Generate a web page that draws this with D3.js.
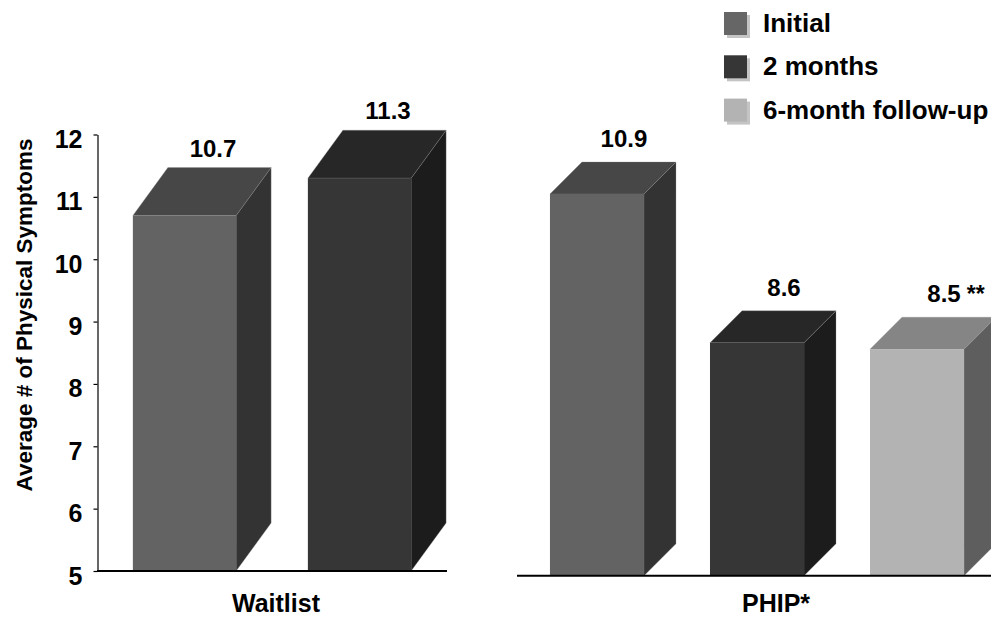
<!DOCTYPE html>
<html>
<head>
<meta charset="utf-8">
<script src="https://cdn.jsdelivr.net/npm/d3@7"></script>
<style>
  html, body { margin: 0; padding: 0; background: #fff; }
  svg { display: block; font-family: "Liberation Sans", Arial, sans-serif; font-weight: bold; }
</style>
</head>
<body>
<svg id="chart" width="991" height="619"></svg>
<script>
// Average number of physical symptoms by group and time point
const groups = ["Waitlist", "PHIP*"];
const seriesNames = ["Initial", "2 months", "6-month follow-up"];
const waitlistSeries = ["Initial", "2 months"];
const waitlistValues = [10.7, 11.3];
const phipSeries = ["Initial", "2 months", "6-month follow-up"];
const phipValues = [10.9, 8.6, 8.5];
const phipNotes = ["", "", "**"];
const yTicks = [5, 6, 7, 8, 9, 10, 11, 12];
const yTitle = "Average # of Physical Symptoms";

// face shades for each series: front, top, side
const shades = {
  "Initial":            { front: "#636363", top: "#474747", side: "#333333" },
  "2 months":           { front: "#363636", top: "#272727", side: "#1c1c1c" },
  "6-month follow-up":  { front: "#b3b3b3", top: "#858585", side: "#5e5e5e" }
};

const svg = d3.select("#chart");

// left panel (with value axis)
const yLeft = d3.scaleLinear().domain([5, 12]).range([571, 134.5]);
// right panel shares the value range but sits slightly lower and taller
const yRight = d3.scaleLinear().domain([5, 12]).range([575.7, 122.8]);

const xLeft = d3.scaleBand().domain(waitlistSeries).range([97, 447])
  .paddingInner(0.41).paddingOuter(0.205);
const xRight = d3.scaleBand().domain(phipSeries).range([517, 997])
  .paddingInner(0.4125).paddingOuter(0.206);

function drawPanel(g, names, values, notes, x, y, depth, labelGap, lineEnd) {
  const base = y(5);
  const bars = g.selectAll("g.bar")
    .data(names.map((n, i) => ({ name: n, value: values[i], note: notes ? notes[i] : "" })))
    .join("g").attr("class", "bar");

  bars.each(function (d) {
    const sel = d3.select(this);
    const x0 = x(d.name), x1 = x0 + x.bandwidth();
    const yt = y(d.value);
    const { dx, dy } = depth;
    const c = shades[d.name];
    // side face
    sel.append("path")
      .attr("d", `M${x1},${yt}L${x1 + dx},${yt - dy}L${x1 + dx},${base - dy}L${x1},${base}Z`)
      .attr("fill", c.side).attr("stroke", "#8c8c8c").attr("stroke-width", 0.5).attr("stroke-opacity", 0.6);
    // top face
    sel.append("path")
      .attr("d", `M${x0},${yt}L${x0 + dx},${yt - dy}L${x1 + dx},${yt - dy}L${x1},${yt}Z`)
      .attr("fill", c.top).attr("stroke", "#8c8c8c").attr("stroke-width", 0.5).attr("stroke-opacity", 0.6);
    // front face
    sel.append("rect")
      .attr("x", x0).attr("y", yt).attr("width", x1 - x0).attr("height", base - yt)
      .attr("fill", c.front);

    // value label above the top face
    const cx = x0 + (x1 - x0) / 2 + dx / 2 + 11;
    const ly = yt - dy - labelGap;
    const t = sel.append("text")
      .attr("x", cx).attr("y", ly)
      .attr("text-anchor", "middle")
      .attr("font-size", 24).attr("fill", "#000")
      .text(d.value.toFixed(1));
    if (d.note) {
      const w = t.node().getComputedTextLength();
      sel.append("text")
        .attr("x", cx + w / 2 + 6).attr("y", ly)
        .attr("font-size", 23).attr("fill", "#000")
        .text(d.note);
    }
  });

  // baseline
  g.append("line")
    .attr("x1", x.range()[0]).attr("x2", lineEnd)
    .attr("y1", base).attr("y2", base)
    .attr("stroke", "#000").attr("stroke-width", 2);
}

const left = svg.append("g");
const right = svg.append("g");

drawPanel(left, waitlistSeries, waitlistValues, null, xLeft, yLeft, { dx: 35, dy: 48 }, 11, 447);
drawPanel(right, phipSeries, phipValues, phipNotes, xRight, yRight, { dx: 32, dy: 32 }, 15, 991);

// value axis on the left panel
const axis = d3.axisLeft(yLeft).tickValues(yTicks).tickSize(4).tickSizeOuter(0).tickPadding(11)
  .tickFormat(d3.format("d"));
const ax = svg.append("g").attr("transform", "translate(97.5,0)").call(axis);
ax.select(".domain").attr("stroke", "#000").attr("stroke-width", 1.2);
ax.selectAll(".tick line").attr("stroke", "#000").attr("stroke-width", 1.2);
ax.selectAll(".tick text")
  .attr("font-size", 25).attr("font-family", "Liberation Sans, Arial, sans-serif")
  .attr("font-weight", "bold").attr("fill", "#000").attr("dy", "0.52em");

// axis title
svg.append("text")
  .attr("transform", "translate(32,315) rotate(-90)")
  .attr("text-anchor", "middle")
  .attr("font-size", 22.5).attr("fill", "#000")
  .text(yTitle);

// group labels
svg.append("text").attr("x", 276).attr("y", 612).attr("text-anchor", "middle")
  .attr("font-size", 25).attr("fill", "#000").text(groups[0]);
svg.append("text").attr("x", 742).attr("y", 612).attr("text-anchor", "start")
  .attr("font-size", 25).attr("fill", "#000").text(groups[1]);

// legend
const legend = svg.append("g").attr("transform", "translate(724,12)");
const rows = legend.selectAll("g").data(seriesNames).join("g")
  .attr("transform", (d, i) => `translate(0,${i * 43.3})`);
rows.append("rect").attr("x", 3).attr("y", 3).attr("width", 23).attr("height", 23).attr("fill", "#c4c4c4");
rows.append("rect").attr("width", 23).attr("height", 23).attr("fill", d => d === "Initial" ? "#666666" : shades[d].front);
rows.append("text").attr("x", 39).attr("y", 20).attr("font-size", 26).attr("fill", "#000").text(d => d);
</script>
</body>
</html>
